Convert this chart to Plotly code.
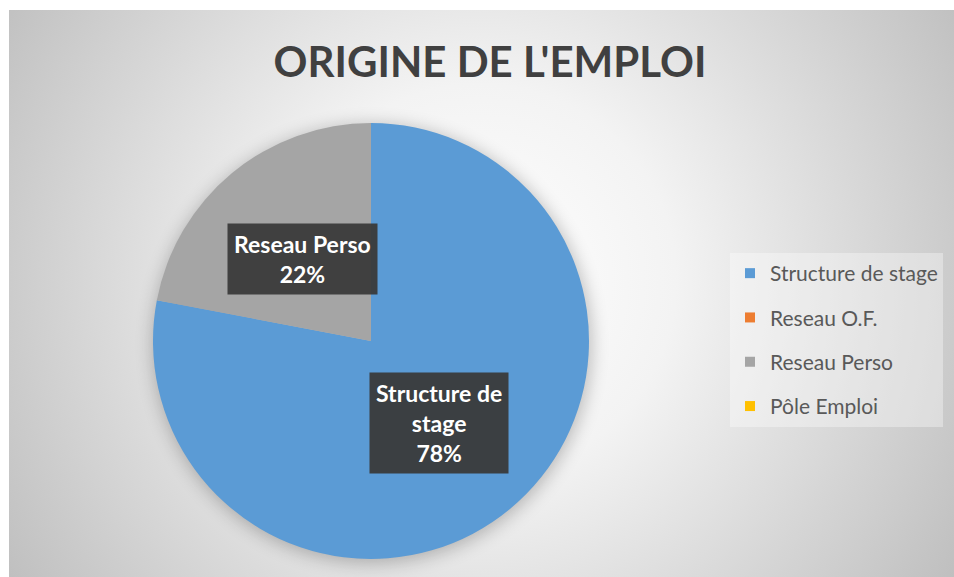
import base64, math
import plotly.graph_objects as go

# ---- data ----
categories = ["Structure de stage", "Reseau O.F.", "Reseau Perso", "Pôle Emploi"]
values = [78, 0, 22, 0]
colors = ["#5B9BD5", "#ED7D31", "#A5A5A5", "#FFC000"]
title_text = "ORIGINE DE L'EMPLOI"

W, H = 954, 577
# pie geometry (pixels)
CX, CY, R = 371, 341, 218
dom_x = [(CX - R) / W, (CX + R) / W]
dom_y = [1 - (CY + R) / H, 1 - (CY - R) / H]

FONT = "Lato"

# background: radial gradient + soft shadow behind pie
svg = f'''<svg xmlns="http://www.w3.org/2000/svg" width="{W}" height="{H}" viewBox="0 0 {W} {H}">
<defs>
<radialGradient id="g" cx="480" cy="280" r="560" gradientUnits="userSpaceOnUse">
<stop offset="0" stop-color="#ffffff"/>
<stop offset="0.35" stop-color="#f3f3f3"/>
<stop offset="1" stop-color="#bfbfbf"/>
</radialGradient>
<filter id="b" x="-30%" y="-30%" width="160%" height="160%"><feGaussianBlur stdDeviation="9"/></filter>
</defs>
<rect x="0" y="0" width="{W}" height="{H}" fill="#ffffff"/>
<rect x="9" y="10" width="{W-9}" height="{H-10}" fill="url(#g)"/>
<circle cx="{CX+1}" cy="{CY+3}" r="{R+1}" fill="#000000" opacity="0.25" filter="url(#b)"/>
</svg>'''
src = "data:image/svg+xml;base64," + base64.b64encode(svg.encode()).decode()

fig = go.Figure()
fig.add_trace(go.Pie(
    labels=categories, values=values, sort=False, direction="clockwise",
    rotation=0, marker=dict(colors=colors, line=dict(width=0)),
    textinfo="none", hoverinfo="label+percent", showlegend=False,
    domain=dict(x=dom_x, y=dom_y),
))

# legend via dummy traces
for c, col in zip(categories, colors):
    fig.add_trace(go.Scatter(
        x=[None], y=[None], mode="markers", name=c, legendgroup=c,
        marker=dict(symbol="square", size=10, color=col),
    ))

def wrap(s, n=12):
    if len(s) <= n:
        return s
    cut = s.rfind(" ", 0, n + 1)
    return s[:cut] + "<br>" + s[cut + 1:]

total = sum(values)
cum = 0
annotations = []
for c, v in zip(categories, values):
    if v > 0:
        th = 2 * math.pi * (cum + v / 2) / total
        px = CX + 0.49 * R * math.sin(th)
        py = CY - 0.49 * R * math.cos(th)
        annotations.append(dict(
            x=px / W, y=1 - py / H, xref="paper", yref="paper",
            xanchor="center", yanchor="middle",
            text=f"<b>{wrap(c)}<br>{round(100 * v / total)}%</b>",
            showarrow=False, bgcolor="rgba(58,58,58,0.95)",
            borderpad=6, font=dict(family=FONT, size=23, color="white"),
            align="center",
        ))
    cum += v

fig.update_layout(
    width=W, height=H, margin=dict(l=0, r=0, t=0, b=0),
    paper_bgcolor="white", plot_bgcolor="rgba(0,0,0,0)",
    xaxis=dict(visible=False), yaxis=dict(visible=False),
    images=[dict(source=src, xref="paper", yref="paper", x=0, y=1,
                 sizex=1, sizey=1, sizing="stretch", xanchor="left",
                 yanchor="top", layer="below")],
    title=dict(text=f"<b>{title_text}</b>", x=490 / W, y=1 - 62 / H,
               xanchor="center", yanchor="middle", xref="paper", yref="paper",
               font=dict(family=FONT, size=42, color="#404040")),
    legend=dict(x=730 / W, y=1 - 253 / H, xanchor="left", yanchor="top",
                bgcolor="rgba(255,255,255,0.35)", tracegroupgap=14,
                font=dict(family=FONT, size=21, color="#595959"),
                itemwidth=30),
    annotations=annotations,
    showlegend=True,
)

fig.write_html("out.html", config={"displayModeBar": False},
               post_script="document.body.style.margin='0';")
